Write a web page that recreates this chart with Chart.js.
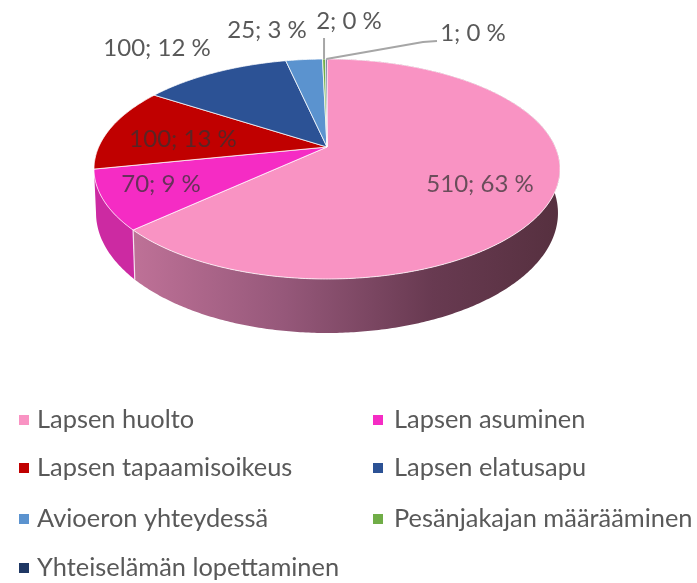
<!DOCTYPE html>
<html><head><meta charset="utf-8">
<style>html,body{margin:0;padding:0;background:#fff}canvas{display:block;filter:blur(0.5px)}</style>
<script src="https://cdn.jsdelivr.net/npm/chart.js@4"></script>
</head><body><canvas id="c" width="697" height="583"></canvas>
<script>
const categories = ['Lapsen huolto','Lapsen asuminen','Lapsen tapaamisoikeus','Lapsen elatusapu','Avioeron yhteydessä','Pesänjakajan määrääminen','Yhteiselämän lopettaminen'];
const values = [510,70,100,100,25,2,1];
const percentText = ['63','9','13','12','3','0','0'];
const colors = ['#F993C3','#F52CC4','#C00000','#2C5295','#5B93CF','#70AD47','#1F3864'];
const wallColors = [null,'#CC2AA2',null,null,null,null,null];

// Projection of the pie disc (perspective), top face and bottom face
const CX = 327, K = -0.2;
const topFace = {A:228.3, a:76.2, b:147};
const botFace = {A:226.3, a:77.4, b:189};
function proj(face, ang){
  // Chart.js arc angles: -PI/2 is 12 o'clock
  const u = Math.cos(ang), v = Math.sin(ang), d = 1 + K*v;
  return [CX + face.A*u/d, (face.a*v + face.b)/d];
}
function trace(ctx, face, a0, a1, first){
  const n = Math.max(2, Math.ceil(Math.abs(a1-a0)/0.01));
  for(let i=0;i<=n;i++){
    const p = proj(face, a0+(a1-a0)*i/n);
    if(i===0 && first) ctx.moveTo(p[0],p[1]); else ctx.lineTo(p[0],p[1]);
  }
}
const labelPos = [[480,184],[161,184],[183,139],[157,48],[267,30],[349,21],[473,33]];
const legendCols = [18,372], legendRows = [420,468,519,568];
const legendOrder = [[0,0],[1,0],[0,1],[1,1],[0,2],[1,2],[0,3]];
const FONT = 'Lato, Carlito, sans-serif';

const pie3d = {
  id:'pie3d',
  beforeDatasetDraw(chart){
    const ctx = chart.ctx, arcs = chart.getDatasetMeta(0).data;
    // walls
    ctx.save();
    const g = ctx.createLinearGradient(134,0,560,0);
    g.addColorStop(0,'#BE7197'); g.addColorStop(0.35,'#96587A');
    g.addColorStop(0.7,'#683A51'); g.addColorStop(1,'#56303F');
    arcs.forEach((arc,i)=>{
      if(i>1) return;
      ctx.beginPath();
      trace(ctx,topFace,arc.startAngle,arc.endAngle,true);
      trace(ctx,botFace,arc.endAngle,arc.startAngle,false);
      ctx.closePath();
      ctx.fillStyle = i===0 ? g : wallColors[i];
      ctx.fill();
    });
    // seam between the two visible walls
    const s = arcs[0].endAngle, p = proj(topFace,s), q = proj(botFace,s);
    ctx.strokeStyle='rgba(255,255,255,.8)'; ctx.lineWidth=1.2;
    ctx.beginPath(); ctx.moveTo(p[0],p[1]); ctx.lineTo(q[0],q[1]); ctx.stroke();
    // top face
    arcs.forEach((arc,i)=>{
      ctx.beginPath();
      ctx.moveTo(CX,topFace.b);
      trace(ctx,topFace,arc.startAngle,arc.endAngle,false);
      ctx.closePath();
      ctx.fillStyle=colors[i]; ctx.fill();
      ctx.strokeStyle='rgba(255,255,255,.75)'; ctx.lineWidth=1; ctx.stroke();
    });
    // leader lines
    ctx.strokeStyle='#A6A6A6'; ctx.lineWidth=2;
    const a5=(arcs[5].startAngle+arcs[5].endAngle)/2, a6=(arcs[6].startAngle+arcs[6].endAngle)/2;
    const p5=proj(topFace,a5), p6=proj(topFace,a6);
    ctx.beginPath(); ctx.moveTo(p5[0],p5[1]); ctx.lineTo(p5[0],38); ctx.stroke();
    ctx.beginPath(); ctx.moveTo(p6[0],p6[1]); ctx.lineTo(423,42); ctx.lineTo(437,41); ctx.stroke();
    // data labels
    ctx.font='24px '+FONT; ctx.textAlign='center'; ctx.textBaseline='middle';
    values.forEach((v,i)=>{
      ctx.fillStyle = i<3 ? 'rgba(50,50,50,.72)' : '#595959';
      ctx.fillText(v+'; '+percentText[i]+' %',labelPos[i][0],labelPos[i][1]);
    });
    // legend
    ctx.textAlign='left'; ctx.font='25.4px '+FONT;
    categories.forEach((name,i)=>{
      const x=legendCols[legendOrder[i][0]], y=legendRows[legendOrder[i][1]];
      ctx.fillStyle=colors[i]; ctx.fillRect(x+1,y-5,10,10);
      ctx.fillStyle='#595959'; ctx.fillText(name,x+19+(legendOrder[i][0]?3:0),y);
    });
    ctx.restore();
    return false;
  }
};

new Chart(document.getElementById('c'),{
  type:'pie',
  data:{labels:categories,datasets:[{data:values,backgroundColor:colors}]},
  options:{responsive:false,animation:false,
    plugins:{legend:{display:false},tooltip:{enabled:false}}},
  plugins:[pie3d]
});
</script></body></html>
